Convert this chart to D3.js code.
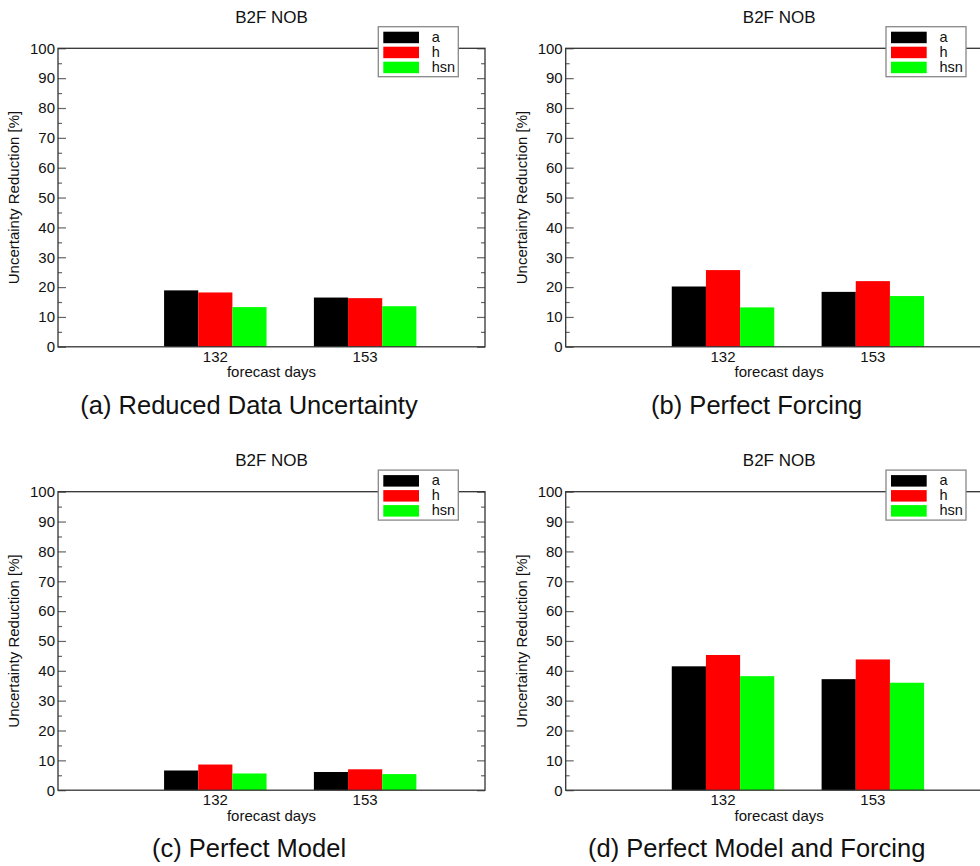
<!DOCTYPE html>
<html>
<head>
<meta charset="utf-8">
<script src="https://cdn.jsdelivr.net/npm/d3@7"></script>
<style>
  body { margin: 0; background: #fff; }
  svg { display: block; font-family: "Liberation Sans", Arial, sans-serif; }
</style>
</head>
<body>
<div id="chart"></div>
<script>
// data
const categories = ["132", "153"];
const seriesNames = ["a", "h", "hsn"];
const seriesColors = ["#000000", "#ff0000", "#00ff00"];
const yTicks = [0, 10, 20, 30, 40, 50, 60, 70, 80, 90, 100];
const yMinorTicks = [5, 15, 25, 35, 45, 55, 65, 75, 85, 95];

// rows = series (a, h, hsn), columns = categories (132, 153)
const reducedDataValues = [[18.9, 16.5], [18.2, 16.3], [13.3, 13.6]];
const perfectForcingValues = [[20.2, 18.4], [25.7, 22.0], [13.2, 17.0]];
const perfectModelValues = [[6.6, 6.1], [8.6, 7.0], [5.6, 5.4]];
const perfectBothValues = [[41.5, 37.2], [45.3, 43.8], [38.2, 36.0]];

const panelTitles = ["B2F NOB", "B2F NOB", "B2F NOB", "B2F NOB"];
const panelCaptions = [
  "(a) Reduced Data Uncertainty",
  "(b) Perfect Forcing",
  "(c) Perfect Model",
  "(d) Perfect Model and Forcing",
];
const panelValues = [reducedDataValues, perfectForcingValues, perfectModelValues, perfectBothValues];

const width = 427;
const height = 298.5;
const offsets = [[58, 48.3], [565.7, 48.3], [58, 491.7], [565.7, 491.7]];

const svg = d3
  .select("#chart")
  .append("svg")
  .attr("width", 980)
  .attr("height", 866);

const x = d3.scaleLinear().domain([-0.05, 2.8]).range([0, width]);
const y = d3.scaleLinear().domain([0, 100]).range([height, 0]);
const barW = x(0.228) - x(0);

panelValues.forEach((vals, p) => {
  const g = svg
    .append("g")
    .attr("transform", `translate(${offsets[p][0]},${offsets[p][1]})`);

  // bars
  vals.forEach((row, s) => {
    g.selectAll(null)
      .data(row)
      .join("rect")
      .attr("x", (d, i) => x(i + 1) + (s - 1.5) * barW)
      .attr("y", (d) => y(d))
      .attr("width", barW)
      .attr("height", (d) => height - y(d))
      .attr("fill", seriesColors[s]);
  });

  // left axis, major + minor ticks pointing inward
  const left = g
    .append("g")
    .call(d3.axisLeft(y).tickValues(yTicks).tickSize(-8).tickSizeOuter(0).tickPadding(3));
  left.selectAll("text").attr("font-size", 15).attr("font-family", "Liberation Sans, Arial, sans-serif").attr("fill", "#111");
  g.append("g")
    .call(d3.axisLeft(y).tickValues(yMinorTicks).tickSize(-4).tickSizeOuter(0).tickFormat(""));

  // right axis
  g.append("g")
    .attr("transform", `translate(${width},0)`)
    .call(d3.axisRight(y).tickValues(yTicks).tickSize(-8).tickSizeOuter(0).tickFormat(""));
  g.append("g")
    .attr("transform", `translate(${width},0)`)
    .call(d3.axisRight(y).tickValues(yMinorTicks).tickSize(-4).tickSizeOuter(0).tickFormat(""));

  g.selectAll(".tick line").attr("stroke", "#666").attr("stroke-width", 1.2);
  g.selectAll(".domain").remove();

  // frame
  g.append("rect")
    .attr("width", width)
    .attr("height", height)
    .attr("fill", "none")
    .attr("stroke", "#333")
    .attr("stroke-width", 1.3);

  // category labels
  g.selectAll(null)
    .data(categories)
    .join("text")
    .attr("x", (d, i) => x(i + 1))
    .attr("y", height + 15)
    .attr("text-anchor", "middle")
    .attr("font-size", 15)
    .attr("fill", "#111")
    .text((d) => d);

  g.append("text")
    .attr("x", width / 2)
    .attr("y", height + 30.5)
    .attr("text-anchor", "middle")
    .attr("font-size", 15)
    .attr("fill", "#111")
    .text("forecast days");

  g.append("text")
    .attr("transform", `translate(${-39},${height / 2}) rotate(-90)`)
    .attr("text-anchor", "middle")
    .attr("font-size", 15)
    .attr("fill", "#111")
    .text("Uncertainty Reduction [%]");

  g.append("text")
    .attr("x", width / 2)
    .attr("y", -25.6)
    .attr("text-anchor", "middle")
    .attr("font-size", 17)
    .attr("fill", "#111")
    .text(panelTitles[p]);

  g.append("text")
    .attr("x", 191)
    .attr("y", height + 66.8)
    .attr("text-anchor", "middle")
    .attr("font-size", 25.5)
    .attr("fill", "#111")
    .text(panelCaptions[p]);

  // legend
  const lg = g.append("g").attr("transform", `translate(${width - 106.7},-21.6)`);
  lg.append("rect")
    .attr("width", 80)
    .attr("height", 50)
    .attr("fill", "#fff")
    .attr("stroke", "#888")
    .attr("stroke-width", 1.3);
  seriesNames.forEach((name, i) => {
    lg.append("rect")
      .attr("x", 5)
      .attr("y", 5 + i * 15)
      .attr("width", 35.7)
      .attr("height", 11.5)
      .attr("fill", seriesColors[i]);
    lg.append("text")
      .attr("x", 53.4)
      .attr("y", 15 + i * 15)
      .attr("font-size", 14.5)
      .attr("fill", "#111")
      .text(name);
  });
});
</script>
</body>
</html>
